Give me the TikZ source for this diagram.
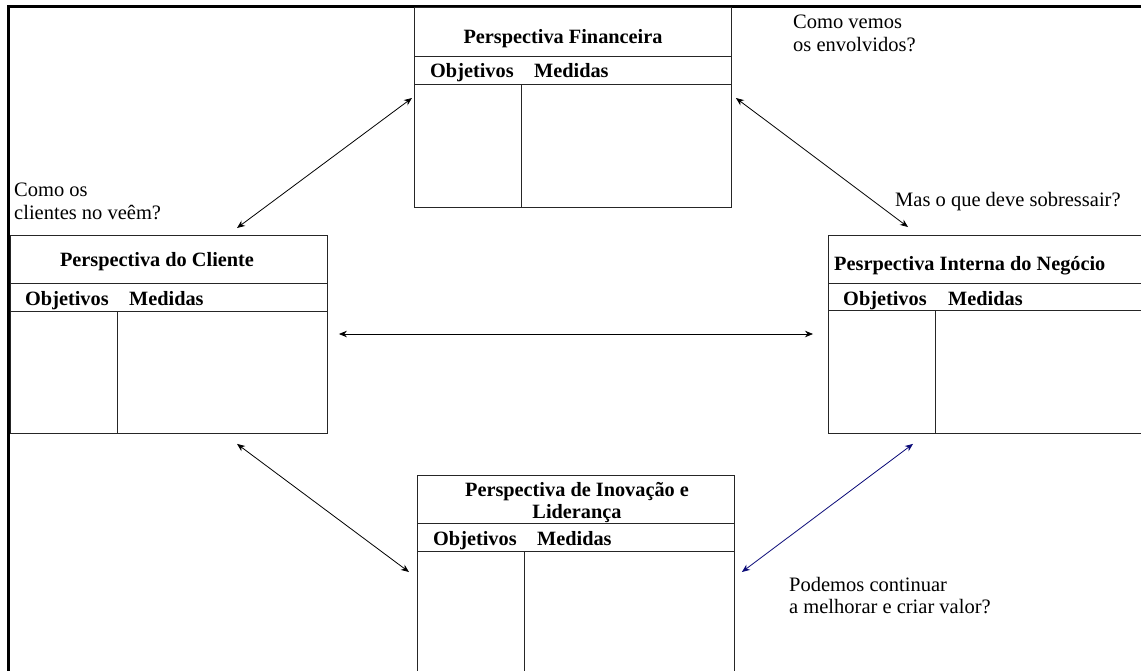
\documentclass[tikz,border=0pt]{standalone}
\usepackage{fontspec}
\setmainfont{Liberation Serif}
\usetikzlibrary{calc,arrows.meta}

\tikzset{
  pbox/.style={draw=black!85, line width=0.9pt, inner sep=0pt, anchor=north west},
  rule/.style={draw=black!85, line width=0.9pt},
  frame/.style={draw=black, line width=2.6pt, line join=miter},
  title/.style={font=\fontsize{20.3}{22}\selectfont\bfseries, inner sep=0pt, anchor=base},
  head/.style={font=\fontsize{20.3}{22}\selectfont\bfseries, inner sep=0pt, anchor=base west},
  note/.style={font=\fontsize{20.5}{22.5}\selectfont, inner sep=0pt, anchor=north west, align=left},
  link/.style={draw=black, line width=0.8pt, {Stealth[length=8pt,width=6.5pt]}-{Stealth[length=8pt,width=6.5pt]}},
  navylink/.style={link, draw=navy, {Stealth[length=8pt,width=6.5pt,color=navy]}-{Stealth[length=8pt,width=6.5pt,color=navy]}}
}
\definecolor{navy}{RGB}{10,10,120}

\begin{document}
\begin{tikzpicture}[x=1pt, y=-1pt]
\useasboundingbox (0,0) rectangle (1141,670);
\fill[white] (0,0) rectangle (1141,670);
\clip (0,0) rectangle (1141,670);

% outer frame (top and left sides)
\draw[frame] (1145,6.2) -| (8.7,675);

% ---- Perspectiva Financeira ----
\node[pbox, minimum width=317pt, minimum height=200pt] (fin) at (414,7) {};
\draw[rule] ($(fin.north west)+(0,49)$) -- ++(317,0);
\draw[rule] ($(fin.north west)+(0,77)$) -- ++(317,0);
\draw[rule] ($(fin.north west)+(107.5,77)$) -- (fin.south west -| {$(fin.north west)+(107.5,0)$});
\node[title] (fint) at (563,43) {Perspectiva Financeira};
\node[head] (fino) at (430,77) {Objetivos};
\node[head] (finm) at (534,77) {Medidas};

% ---- Perspectiva do Cliente ----
\node[pbox, minimum width=317pt, minimum height=198pt] (cli) at (10,235) {};
\draw[rule] ($(cli.north west)+(0,48)$) -- ++(317,0);
\draw[rule] ($(cli.north west)+(0,76)$) -- ++(317,0);
\draw[rule] ($(cli.north west)+(107,76)$) -- ($(cli.south west)+(107,0)$);
\node[title] (clit) at (157,266) {Perspectiva do Cliente};
\node[head] (clio) at (25,305) {Objetivos};
\node[head] (clim) at (129,305) {Medidas};

% ---- Perspectiva Interna do Negócio ----
\node[pbox, minimum width=330pt, minimum height=198pt] (int) at (828,235) {};
\draw[rule] ($(int.north west)+(0,48)$) -- ++(330,0);
\draw[rule] ($(int.north west)+(0,75)$) -- ++(330,0);
\draw[rule] ($(int.north west)+(107,75)$) -- ($(int.south west)+(107,0)$);
\node[title, anchor=base west] (intt) at (834,270) {Pesrpectiva Interna do Negócio};
\node[head] (into) at (843,305) {Objetivos};
\node[head] (intm) at (948,305) {Medidas};

% ---- Perspectiva de Inovação e Liderança ----
\node[pbox, minimum width=317pt, minimum height=240pt] (inn) at (417,475) {};
\draw[rule] ($(inn.north west)+(0,48)$) -- ++(317,0);
\draw[rule] ($(inn.north west)+(0,76)$) -- ++(317,0);
\draw[rule] ($(inn.north west)+(107,76)$) -- ($(inn.south west)+(107,0)$);
\node[title, anchor=north, align=center, font=\fontsize{20.3}{22}\selectfont\bfseries] (innt) at (577,482) {Perspectiva de Inovação e\\Liderança};
\node[head] (inno) at (433,545) {Objetivos};
\node[head] (innm) at (537,545) {Medidas};

% ---- questions ----
\node[note] (q1) at (793,15) {Como vemos\\os envolvidos?};
\node[note] (q2) at (14,183) {Como os\\clientes no veêm?};
\node[note] (q3) at (895,192) {Mas o que deve sobressair?};
\node[note] (q4) at (789,577) {Podemos continuar\\a melhorar e criar valor?};

% ---- connector end points ----
\coordinate (fin-w) at ($(fin.north west)+(-2,91)$);
\coordinate (fin-e) at ($(fin.north east)+(4,91)$);
\coordinate (cli-n) at ($(cli.north west)+(227,-7)$);
\coordinate (cli-e) at ($(cli.north east)+(11,99)$);
\coordinate (cli-s) at ($(cli.south west)+(227,10)$);
\coordinate (int-n) at ($(int.north west)+(80,-8)$);
\coordinate (int-w) at ($(int.north west)+(-15,99)$);
\coordinate (int-s) at ($(int.south west)+(85,10)$);
\coordinate (inn-w) at ($(inn.north west)+(-8,97)$);
\coordinate (inn-e) at ($(inn.north east)+(7,97)$);

% ---- connectors ----
\draw[link] (fin-w) -- (cli-n);
\draw[link] (fin-e) -- (int-n);
\draw[link] (cli-e) -- (int-w);
\draw[link] (cli-s) -- (inn-w);
\draw[navylink] (inn-e) -- (int-s);
\end{tikzpicture}
\end{document}
